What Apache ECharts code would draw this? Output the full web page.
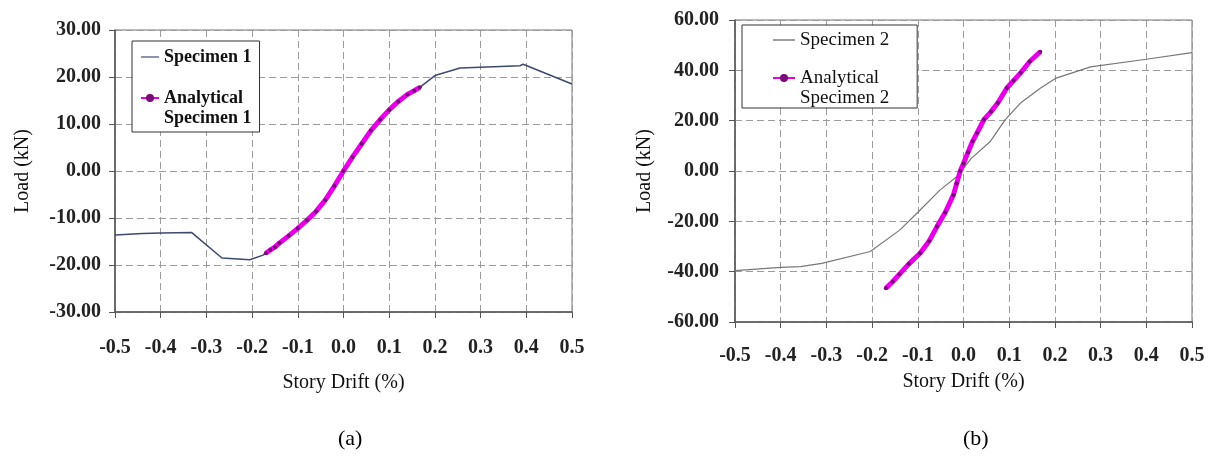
<!DOCTYPE html>
<html>
<head>
<meta charset="utf-8">
<script src="https://cdn.jsdelivr.net/npm/echarts@6/dist/echarts.min.js"></script>
<style>
html,body{margin:0;padding:0;background:#fff;}
#chart{width:1210px;height:464px;}
</style>
</head>
<body>
<div id="chart"></div>
<script>
// ---- Data ----
const spec1X = [-0.5,-0.44,-0.4,-0.332,-0.266,-0.205,-0.176,-0.15,-0.12,-0.1,-0.08,-0.06,-0.04,-0.02,0,0.02,0.04,0.06,0.08,0.1,0.12,0.14,0.167,0.2,0.255,0.3,0.386,0.393,0.5];
const spec1Y = [-13.6,-13.3,-13.2,-13.1,-18.5,-18.9,-17.9,-16.2,-13.8,-12.2,-10.5,-8.6,-6.2,-3.2,0,3.0,5.8,8.6,10.9,13.0,14.8,16.3,17.8,20.3,21.9,22.1,22.4,22.7,18.5];
const anal1X = [-0.17,-0.16,-0.15,-0.14,-0.12,-0.1,-0.08,-0.06,-0.04,-0.02,0,0.02,0.04,0.06,0.08,0.1,0.12,0.14,0.155,0.167];
const anal1Y = [-17.5,-16.8,-16.2,-15.3,-13.8,-12.2,-10.5,-8.6,-6.2,-3.2,0,3.0,5.8,8.6,10.9,13.0,14.8,16.3,17.1,17.8];
const spec2X = [-0.5,-0.4,-0.357,-0.31,-0.204,-0.139,-0.102,-0.051,-0.015,0.017,0.058,0.091,0.124,0.168,0.201,0.278,0.4,0.5];
const spec2Y = [-39.6,-38.3,-38.0,-36.7,-32.0,-23.4,-16.8,-7.5,-2.3,5.0,11.6,20.3,26.9,32.9,36.8,41.4,44.4,47.0];
const anal2X = [-0.17,-0.155,-0.14,-0.12,-0.095,-0.075,-0.058,-0.04,-0.022,-0.015,-0.007,0,0.01,0.02,0.03,0.045,0.06,0.075,0.095,0.11,0.125,0.145,0.168];
const anal2Y = [-46.6,-44.0,-41.0,-37.0,-32.7,-27.8,-22.1,-16.5,-9.5,-5.0,0,3.0,7.5,11.8,15.2,20.5,23.5,27.0,33.0,36.0,39.0,43.5,47.4];

const seriesNames = ['Specimen 1','Analytical Specimen 1','Specimen 2','Analytical Specimen 2'];
const xAxisTitle = 'Story Drift (%)';
const yAxisTitle = 'Load (kN)';
const captions = ['(a)','(b)'];

const zip = (xs, ys) => xs.map((x, i) => [x, ys[i]]);
const FONT = 'Liberation Serif';
const LINE_ICON = 'path://M0,0 L20,0 L20,1.3 L0,1.3 Z';

function fmt(d) { return v => { const r = Math.abs(v) < 1e-9 ? 0 : v; return r.toFixed(d); }; }

function xAx(gi, nameGap, margin) {
  return {
    type: 'value', gridIndex: gi, min: -0.5, max: 0.5, interval: 0.1,
    name: xAxisTitle, nameLocation: 'middle', nameGap: nameGap,
    nameTextStyle: { fontFamily: FONT, fontSize: 20, color: '#111' },
    axisLine: { show: true, onZero: false, lineStyle: { color: '#555', width: 1.5 } },
    axisTick: { show: true, inside: false, length: 6, lineStyle: { color: '#555' } },
    axisLabel: { margin: margin, formatter: fmt(1), fontFamily: FONT, fontSize: 20, fontWeight: 'bold', color: '#222' },
    splitLine: { show: true, lineStyle: { type: [7, 4], color: '#9c9c9c', width: 1 } }
  };
}
function yAx(gi, mn, mx, iv, nameGap, margin) {
  return {
    type: 'value', gridIndex: gi, min: mn, max: mx, interval: iv,
    name: yAxisTitle, nameLocation: 'middle', nameGap: nameGap, nameRotate: 90,
    nameTextStyle: { fontFamily: FONT, fontSize: 20, color: '#111' },
    axisLine: { show: true, onZero: false, lineStyle: { color: '#555', width: 1.5 } },
    axisTick: { show: true, inside: false, length: 6, lineStyle: { color: '#555' } },
    axisLabel: { margin: margin, formatter: fmt(2), fontFamily: FONT, fontSize: 20, fontWeight: 'bold', color: '#222' },
    splitLine: { show: true, lineStyle: { type: [7, 4], color: '#9c9c9c', width: 1 } }
  };
}

const analStyle = (xi) => ({
  type: 'line', xAxisIndex: xi, yAxisIndex: xi, z: 5,
  showSymbol: true, symbol: 'circle', symbolSize: 4,
  lineStyle: { color: '#e600e6', width: 5 },
  itemStyle: { color: '#7a0a7a' }
});

const legendFmt = n => n.indexOf('Analytical') === 0 ? '\nAnalytical\n' + n.slice(11) : n;

const option = {
  animation: false,
  backgroundColor: '#fff',
  title: [
    { text: captions[0], left: 338, top: 428, padding: 0, textStyle: { fontFamily: FONT, fontSize: 22, fontWeight: 'normal', color: '#000' } },
    { text: captions[1], left: 963, top: 428, padding: 0, textStyle: { fontFamily: FONT, fontSize: 22, fontWeight: 'normal', color: '#000' } }
  ],
  grid: [
    { left: 115, top: 30, width: 457, height: 282, show: true, borderColor: '#777', borderWidth: 1, backgroundColor: 'transparent' },
    { left: 735, top: 20, width: 457, height: 302, show: true, borderColor: '#777', borderWidth: 1, backgroundColor: 'transparent' }
  ],
  xAxis: [xAx(0, 61, 26), xAx(1, 50, 24)],
  yAxis: [yAx(0, -30, 30, 10, 82, 14), yAx(1, -60, 60, 20, 80, 16)],
  legend: [
    {
      data: [{ name: seriesNames[0], icon: LINE_ICON }, { name: seriesNames[1] }], left: 132, top: 41, orient: 'vertical',
      backgroundColor: '#fff', borderColor: '#333', borderWidth: 1,
      padding: [6, 8, 4, 8], itemGap: 1, itemWidth: 18, itemHeight: 10, selectedMode: false,
      formatter: legendFmt,
      textStyle: { fontFamily: FONT, fontSize: 18, fontWeight: 'bold', lineHeight: 20, color: '#111' }
    },
    {
      data: [{ name: seriesNames[2], icon: LINE_ICON }, { name: seriesNames[3] }], left: 742, top: 25, orient: 'vertical',
      backgroundColor: '#fff', borderColor: '#333', borderWidth: 1,
      padding: [5, 28, 0, 30], itemGap: -2, itemWidth: 22, itemHeight: 10, selectedMode: false,
      formatter: legendFmt,
      textStyle: { fontFamily: FONT, fontSize: 19, fontWeight: 'normal', lineHeight: 20, color: '#111' }
    }
  ],
  series: [
    { name: seriesNames[0], type: 'line', xAxisIndex: 0, yAxisIndex: 0, symbol: 'none', showSymbol: false,
      lineStyle: { color: '#3d4a6e', width: 1.5 }, itemStyle: { color: '#3d4a6e' }, data: zip(spec1X, spec1Y) },
    Object.assign({ name: seriesNames[1], data: zip(anal1X, anal1Y) }, analStyle(0)),
    { name: seriesNames[2], type: 'line', xAxisIndex: 1, yAxisIndex: 1, symbol: 'none', showSymbol: false,
      lineStyle: { color: '#777', width: 1.2 }, itemStyle: { color: '#777' }, data: zip(spec2X, spec2Y) },
    Object.assign({ name: seriesNames[3], data: zip(anal2X, anal2Y) }, analStyle(1))
  ]
};

const chart = echarts.init(document.getElementById('chart'), null, { renderer: 'canvas' });
chart.setOption(option);
</script>
</body>
</html>
